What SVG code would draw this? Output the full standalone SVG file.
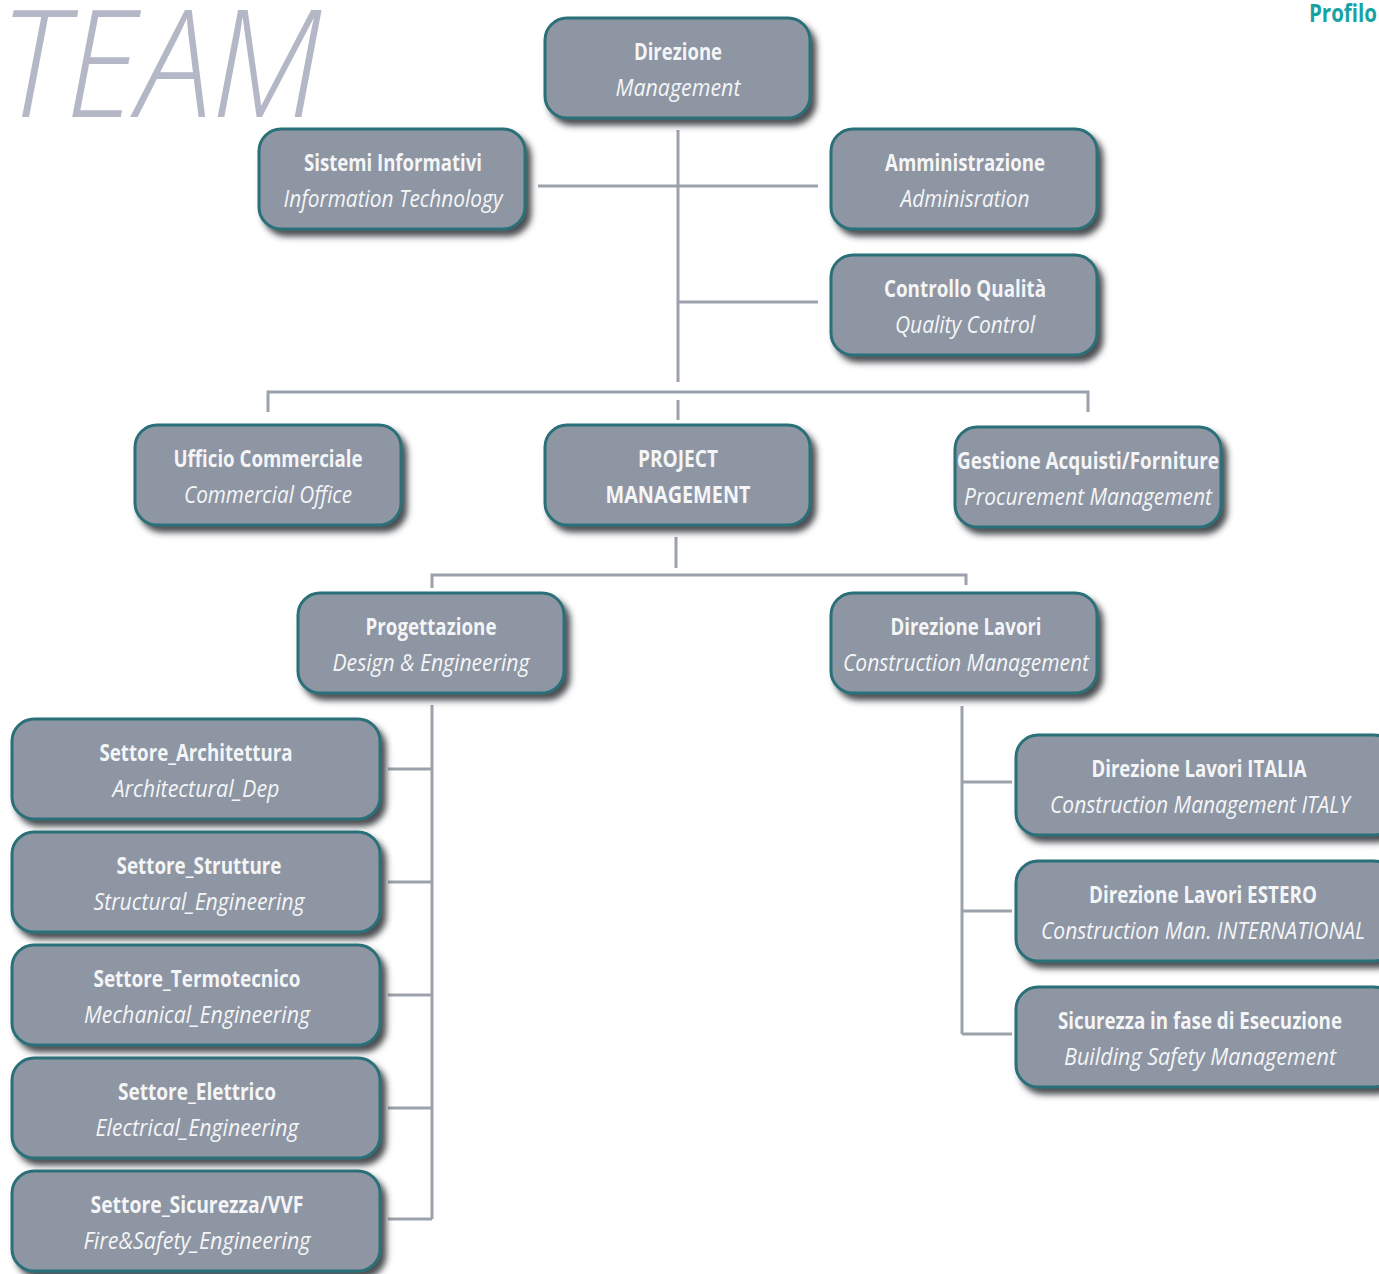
<svg xmlns="http://www.w3.org/2000/svg" width="1379" height="1274" viewBox="0 0 1379 1274">
<defs>
<filter id="sh" x="-10%" y="-10%" width="125%" height="135%">
<feDropShadow dx="5" dy="6" stdDeviation="3" flood-color="#2a2e33" flood-opacity="0.85"/>
</filter>
<style>
.box{fill:#8e96a3;stroke:#2b6f78;stroke-width:3;filter:url(#sh)}
.t1{font-family:"Open Sans","Liberation Sans",sans-serif;font-weight:bold;font-size:24px;fill:#f4f5f7;text-anchor:middle}
.t2{font-family:"Open Sans","Liberation Sans",sans-serif;font-style:italic;font-size:24px;fill:#f4f5f7;text-anchor:middle}
.ln{stroke:#9ca2ab;stroke-width:3;fill:none}
</style>
</defs>
<rect width="1379" height="1274" fill="#ffffff"/>
<text x="0" y="117" font-family="'Open Sans','Liberation Sans',sans-serif" font-style="italic" font-weight="300" font-size="150" fill="#b4b7c6" textLength="322" lengthAdjust="spacingAndGlyphs">TEAM</text>
<text x="1377" y="22" font-family="'Open Sans','Liberation Sans',sans-serif" font-weight="bold" font-size="25" fill="#17a2a4" text-anchor="end" textLength="68" lengthAdjust="spacingAndGlyphs">Profilo</text>

<g id="connectors">
<path class="ln" d="M678 130V382M538 186H818M678 302H818M268 412V392H1088V412M678 400V420"/>
<path class="ln" d="M676 537V568M432 588V575H966V585"/>
<path class="ln" d="M432 705V1219M388 769H432M388 882H432M388 995H432M388 1108H432M388 1219H432"/>
<path class="ln" d="M962 706V1034M962 782H1012M962 911H1012M962 1034H1012"/>
</g>

<g id="n-direzione"><rect class="box" x="545" y="18" width="265" height="100" rx="22"/>
<text class="t1" x="678" y="60" textLength="88" lengthAdjust="spacingAndGlyphs">Direzione</text>
<text class="t2" x="678" y="96" textLength="125" lengthAdjust="spacingAndGlyphs">Management</text></g>

<g id="n-sistemi"><rect class="box" x="259" y="129" width="266" height="100" rx="22"/>
<text class="t1" x="393" y="171" textLength="178" lengthAdjust="spacingAndGlyphs">Sistemi Informativi</text>
<text class="t2" x="393" y="207" textLength="219" lengthAdjust="spacingAndGlyphs">Information Technology</text></g>

<g id="n-amministrazione"><rect class="box" x="831" y="129" width="266" height="100" rx="22"/>
<text class="t1" x="965" y="171" textLength="160" lengthAdjust="spacingAndGlyphs">Amministrazione</text>
<text class="t2" x="965" y="207" textLength="129" lengthAdjust="spacingAndGlyphs">Adminisration</text></g>

<g id="n-controllo"><rect class="box" x="831" y="255" width="266" height="100" rx="22"/>
<text class="t1" x="965" y="297" textLength="162" lengthAdjust="spacingAndGlyphs">Controllo Qualità</text>
<text class="t2" x="965" y="333" textLength="140" lengthAdjust="spacingAndGlyphs">Quality Control</text></g>

<g id="n-commerciale"><rect class="box" x="135" y="425" width="266" height="100" rx="22"/>
<text class="t1" x="268" y="467" textLength="189" lengthAdjust="spacingAndGlyphs">Ufficio Commerciale</text>
<text class="t2" x="268" y="503" textLength="168" lengthAdjust="spacingAndGlyphs">Commercial Office</text></g>

<g id="n-pm"><rect class="box" x="545" y="425" width="265" height="100" rx="22"/>
<text class="t1" x="678" y="467" textLength="80" lengthAdjust="spacingAndGlyphs">PROJECT</text>
<text class="t1" x="678" y="503" textLength="145" lengthAdjust="spacingAndGlyphs">MANAGEMENT</text></g>

<g id="n-acquisti"><rect class="box" x="955" y="427" width="266" height="100" rx="22"/>
<text class="t1" x="1088" y="469" textLength="262" lengthAdjust="spacingAndGlyphs">Gestione Acquisti/Forniture</text>
<text class="t2" x="1088" y="505" textLength="248" lengthAdjust="spacingAndGlyphs">Procurement Management</text></g>

<g id="n-progettazione"><rect class="box" x="298" y="593" width="266" height="100" rx="22"/>
<text class="t1" x="431" y="635" textLength="131" lengthAdjust="spacingAndGlyphs">Progettazione</text>
<text class="t2" x="431" y="671" textLength="197" lengthAdjust="spacingAndGlyphs">Design &amp; Engineering</text></g>

<g id="n-dirlavori"><rect class="box" x="831" y="593" width="266" height="100" rx="22"/>
<text class="t1" x="966" y="635" textLength="151" lengthAdjust="spacingAndGlyphs">Direzione Lavori</text>
<text class="t2" x="966" y="671" textLength="246" lengthAdjust="spacingAndGlyphs">Construction Management</text></g>

<g id="n-architettura"><rect class="box" x="12" y="719" width="368" height="100" rx="22"/>
<text class="t1" x="196" y="761" textLength="193" lengthAdjust="spacingAndGlyphs">Settore_Architettura</text>
<text class="t2" x="196" y="797" textLength="167" lengthAdjust="spacingAndGlyphs">Architectural_Dep</text></g>

<g id="n-strutture"><rect class="box" x="12" y="832" width="368" height="100" rx="22"/>
<text class="t1" x="199" y="874" textLength="165" lengthAdjust="spacingAndGlyphs">Settore_Strutture</text>
<text class="t2" x="199" y="910" textLength="211" lengthAdjust="spacingAndGlyphs">Structural_Engineering</text></g>

<g id="n-termotecnico"><rect class="box" x="12" y="945" width="368" height="100" rx="22"/>
<text class="t1" x="197" y="987" textLength="207" lengthAdjust="spacingAndGlyphs">Settore_Termotecnico</text>
<text class="t2" x="197" y="1023" textLength="226" lengthAdjust="spacingAndGlyphs">Mechanical_Engineering</text></g>

<g id="n-elettrico"><rect class="box" x="12" y="1058" width="368" height="100" rx="22"/>
<text class="t1" x="197" y="1100" textLength="158" lengthAdjust="spacingAndGlyphs">Settore_Elettrico</text>
<text class="t2" x="197" y="1136" textLength="203" lengthAdjust="spacingAndGlyphs">Electrical_Engineering</text></g>

<g id="n-sicurezzavvf"><rect class="box" x="12" y="1171" width="368" height="100" rx="22"/>
<text class="t1" x="197" y="1213" textLength="213" lengthAdjust="spacingAndGlyphs">Settore_Sicurezza/VVF</text>
<text class="t2" x="197" y="1249" textLength="227" lengthAdjust="spacingAndGlyphs">Fire&amp;Safety_Engineering</text></g>

<g id="n-italia"><rect class="box" x="1016" y="735" width="380" height="100" rx="22"/>
<text class="t1" x="1199" y="777" textLength="215" lengthAdjust="spacingAndGlyphs">Direzione Lavori ITALIA</text>
<text class="t2" x="1200" y="813" textLength="300" lengthAdjust="spacingAndGlyphs">Construction Management ITALY</text></g>

<g id="n-estero"><rect class="box" x="1016" y="861" width="380" height="100" rx="22"/>
<text class="t1" x="1203" y="903" textLength="228" lengthAdjust="spacingAndGlyphs">Direzione Lavori ESTERO</text>
<text class="t2" x="1203" y="939" textLength="324" lengthAdjust="spacingAndGlyphs">Construction Man. INTERNATIONAL</text></g>

<g id="n-sicurezzaesec"><rect class="box" x="1016" y="987" width="380" height="100" rx="22"/>
<text class="t1" x="1200" y="1029" textLength="284" lengthAdjust="spacingAndGlyphs">Sicurezza in fase di Esecuzione</text>
<text class="t2" x="1200" y="1065" textLength="272" lengthAdjust="spacingAndGlyphs">Building Safety  Management</text></g>
</svg>
